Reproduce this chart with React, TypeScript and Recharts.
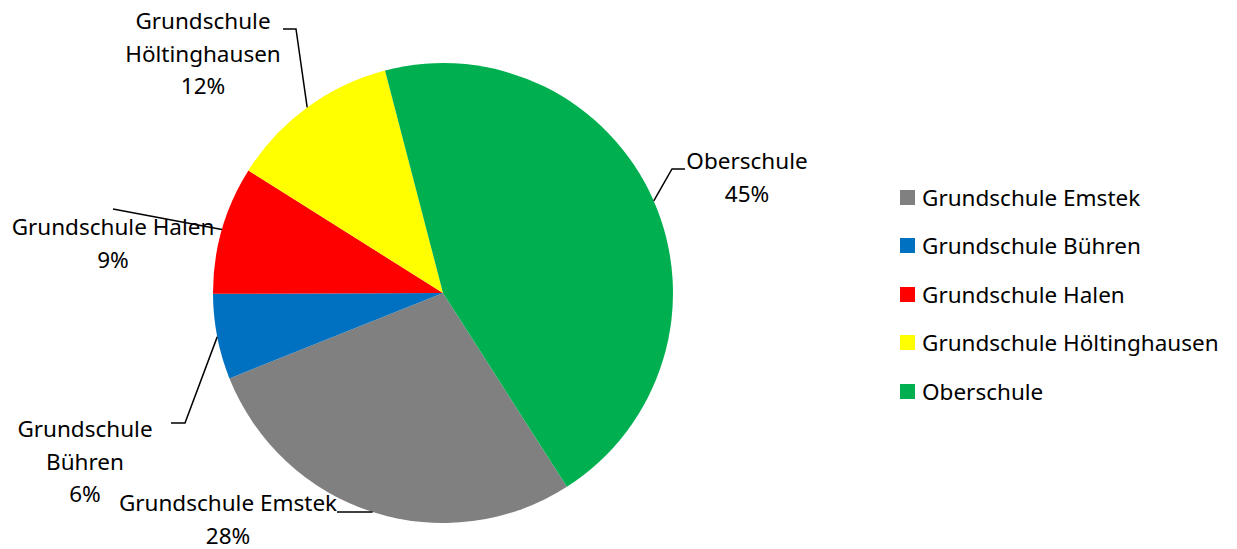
import { PieChart, Pie, Cell, Legend } from 'recharts';

const SCHOOLS = [
  'Grundschule Emstek',
  'Grundschule Bühren',
  'Grundschule Halen',
  'Grundschule Höltinghausen',
  'Oberschule',
];
const SHARES = [28, 6, 9, 12, 45];
const COLORS = ['#808080', '#0070C0', '#FF0000', '#FFFF00', '#00B050'];

const data = SCHOOLS.map((name, i) => ({ name, value: SHARES[i] }));

const FONT = '"Noto Sans", Lato, sans-serif';
const FONT_SIZE = 22.5;
const CX = 443;
const CY = 293;
const RADIUS = 230;
const RADIAN = Math.PI / 180;
const LINE_H = 32.5;

// label placement relative to pie centre: text centre, line breaks, leader elbow points
const LABEL_LAYOUT = [
  { tx: -215, ty: 209, lines: ['Grundschule Emstek'], path: [[-106, 219]] },
  { tx: -358, ty: 135, lines: ['Grundschule', 'Bühren'], path: [[-258, 130], [-272, 130]] },
  { tx: -330, ty: -67, lines: ['Grundschule Halen'], path: [[-330, -84]] },
  { tx: -240, ty: -273, lines: ['Grundschule', 'Höltinghausen'], path: [[-147, -264], [-160, -264]] },
  { tx: 304, ty: -133, lines: ['Oberschule'], path: [[229, -124], [242, -124]] },
];

function renderLabel(props: any) {
  const { cx, cy, midAngle, outerRadius, index, percent } = props;
  const layout = LABEL_LAYOUT[index];
  const sx = cx + outerRadius * Math.cos(-midAngle * RADIAN);
  const sy = cy + outerRadius * Math.sin(-midAngle * RADIAN);
  const pts = [[sx, sy], ...layout.path.map(([dx, dy]) => [cx + dx, cy + dy])];
  const d = pts.map((p, i) => `${i === 0 ? 'M' : 'L'}${p[0]},${p[1]}`).join(' ');
  const lines = [...layout.lines, `${Math.round(percent * 100)}%`];
  return (
    <g key={`label-${index}`}>
      <path d={d} stroke="#000" strokeWidth={1.5} fill="none" />
      <text
        x={cx + layout.tx}
        y={cy + layout.ty}
        textAnchor="middle"
        dominantBaseline="central"
        fontFamily={FONT}
        fontSize={FONT_SIZE}
        fill="#000"
      >
        {lines.map((line, i) => (
          <tspan key={i} x={cx + layout.tx} y={cy + layout.ty + i * LINE_H}>
            {line}
          </tspan>
        ))}
      </text>
    </g>
  );
}

function LegendContent() {
  return (
    <div style={{ fontFamily: FONT, fontSize: FONT_SIZE, color: '#000' }}>
      {SCHOOLS.map((name, i) => (
        <div
          key={name}
          style={{ display: 'flex', alignItems: 'center', height: 48.5 }}
        >
          <span
            style={{
              width: 15,
              height: 15,
              background: COLORS[i],
              marginRight: 7,
              display: 'inline-block',
            }}
          />
          <span>{name}</span>
        </div>
      ))}
    </div>
  );
}

export default function App() {
  return (
    <div style={{ position: 'absolute', left: 0, top: 0, background: '#fff' }}>
      <PieChart width={1237} height={549} margin={{ top: 0, right: 0, bottom: 0, left: 0 }}>
        <Pie
          data={data}
          dataKey="value"
          nameKey="name"
          cx={CX}
          cy={CY}
          outerRadius={RADIUS}
          startAngle={-57.4}
          endAngle={-417.4}
          stroke="none"
          label={renderLabel}
          labelLine={false}
          isAnimationActive={false}
        >
          {data.map((entry, i) => (
            <Cell key={entry.name} fill={COLORS[i]} />
          ))}
        </Pie>
        <Legend
          layout="vertical"
          content={<LegendContent />}
          wrapperStyle={{ position: 'absolute', left: 900, top: 173, width: 337 }}
        />
      </PieChart>
    </div>
  );
}
